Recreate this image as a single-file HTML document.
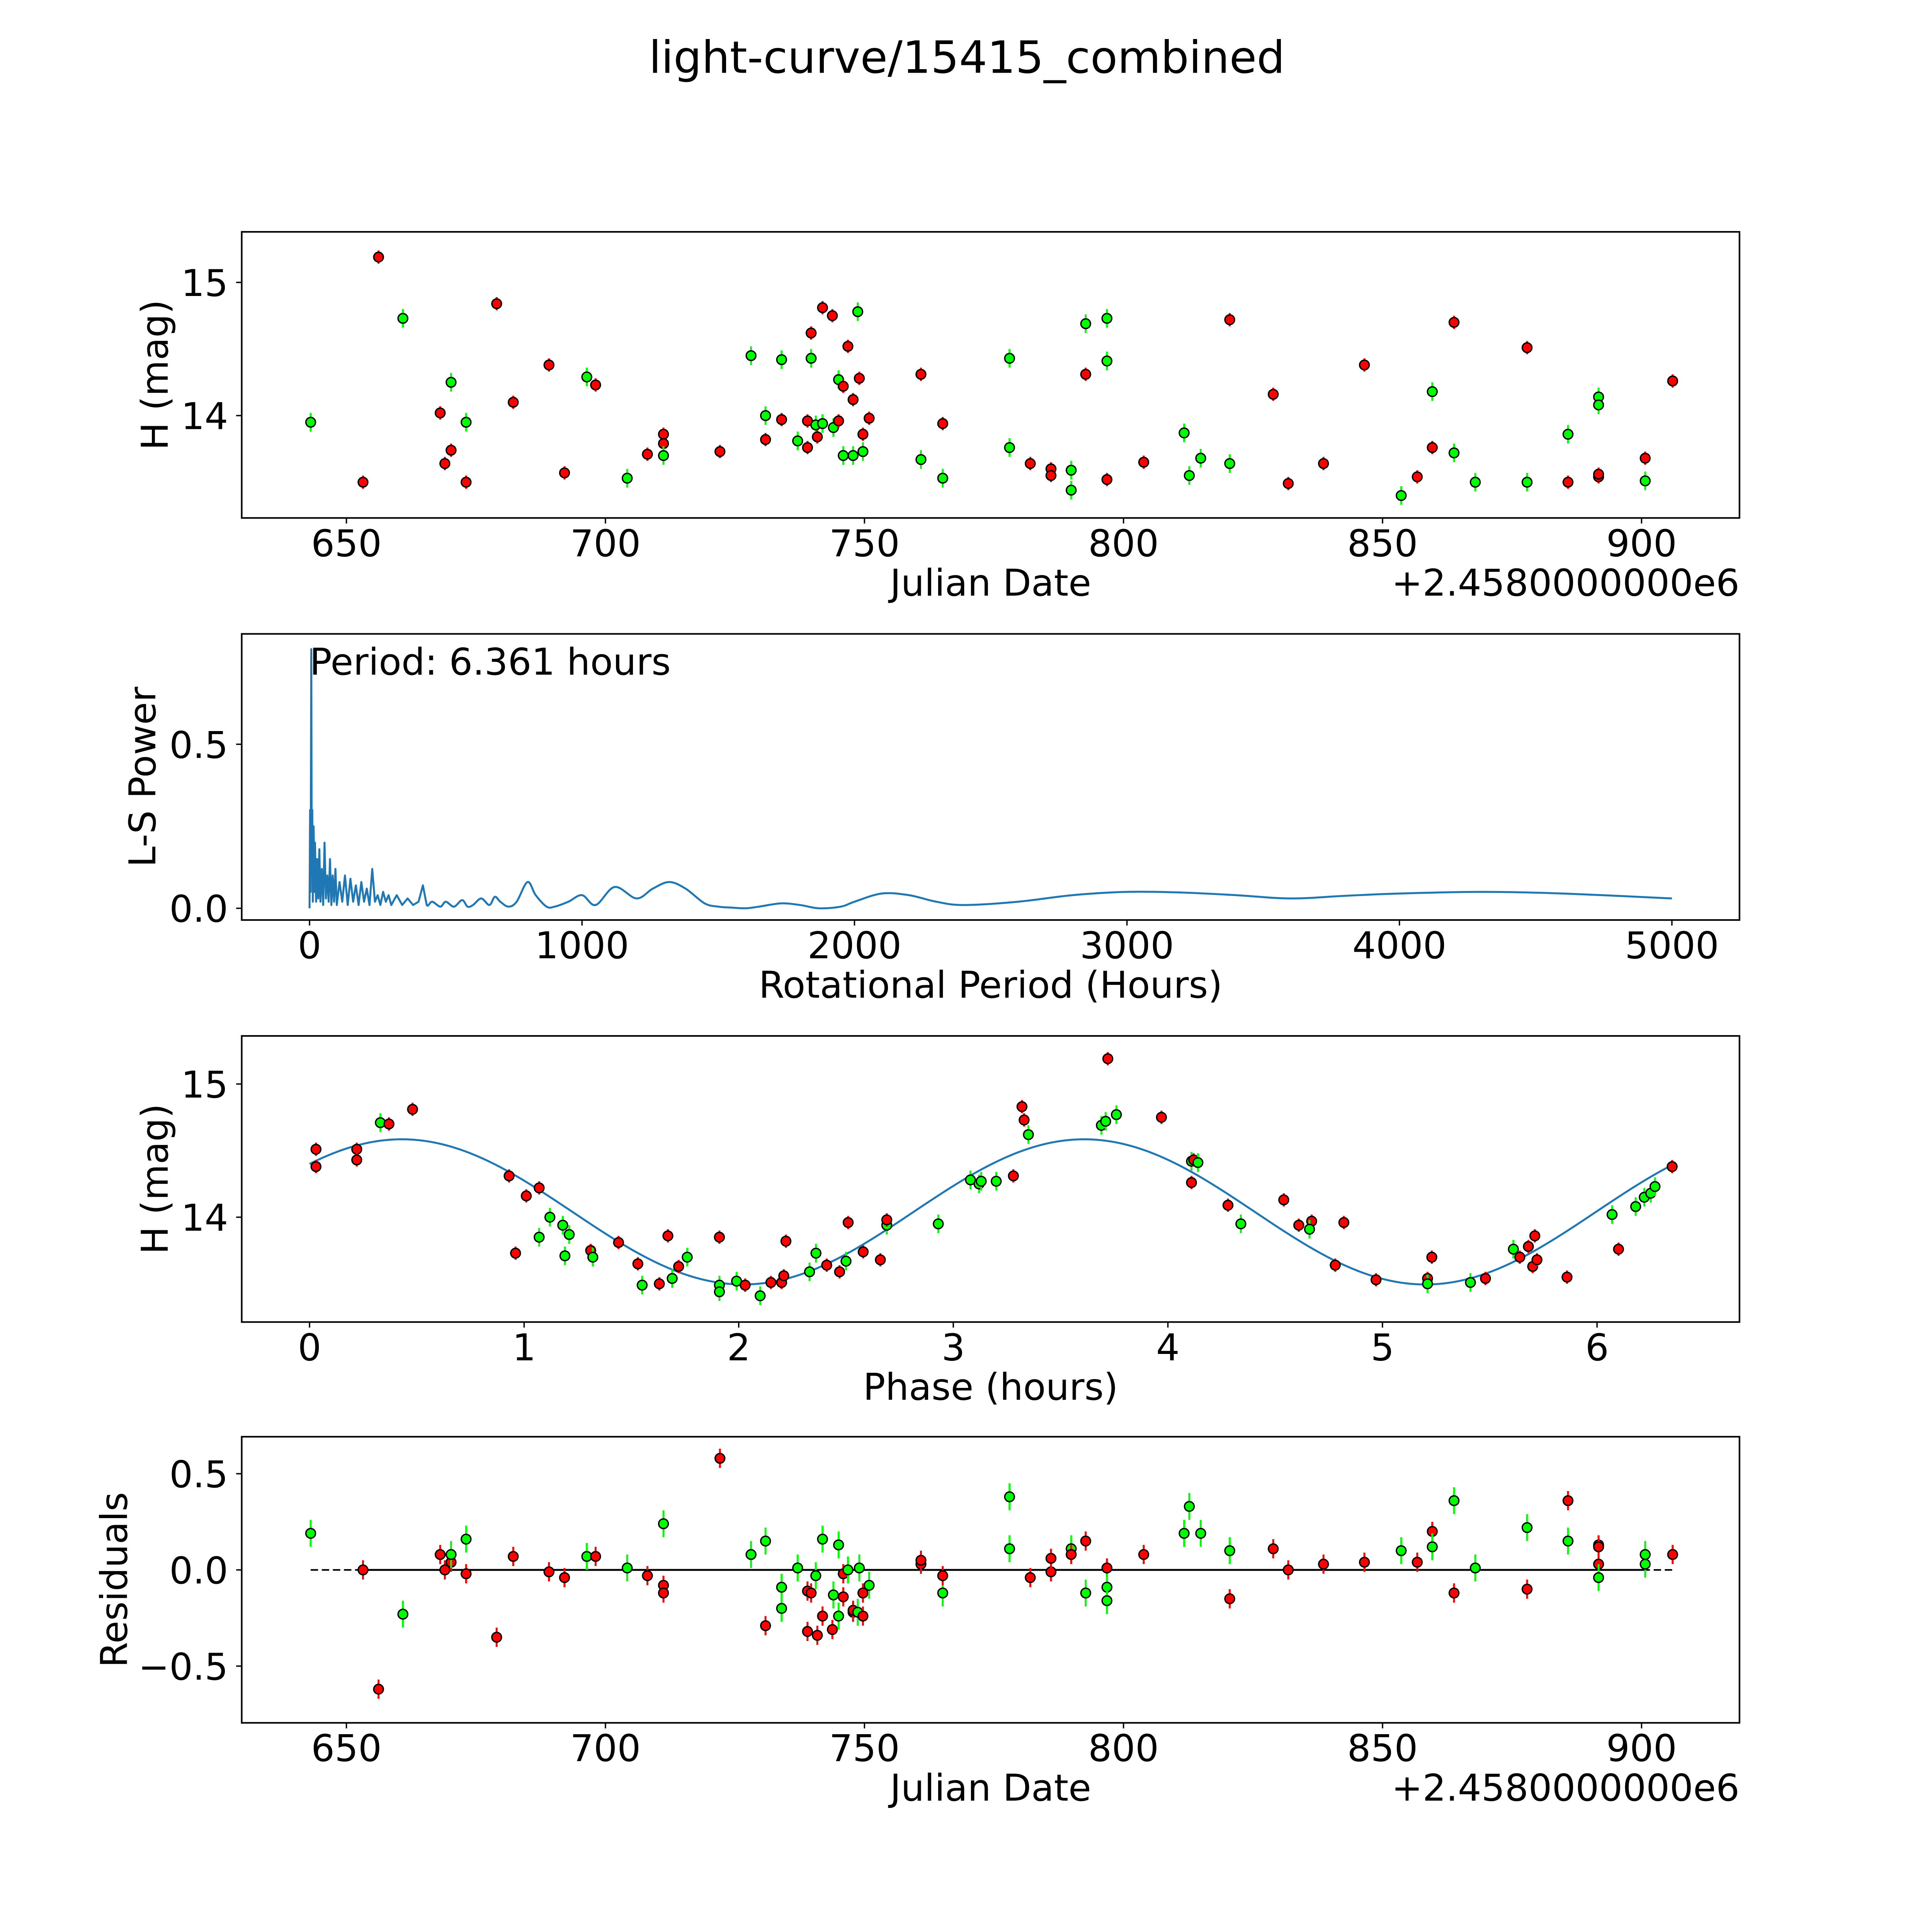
<!DOCTYPE html>
<html><head><meta charset="utf-8"><style>
html,body{margin:0;padding:0;background:#fff;overflow:hidden;width:100%;height:100%;}
svg{display:block;position:fixed;left:0;top:0;width:100vw;height:100vh;}
text{font-family:"DejaVu Sans","Liberation Sans",sans-serif;fill:#000;}
</style></head><body>
<svg id="fig" viewBox="0 0 1566.6 1566.6" xmlns="http://www.w3.org/2000/svg">
<rect x="0" y="0" width="1566.6" height="1566.6" fill="#fff"/>
<text x="784" y="59" font-size="36" text-anchor="middle">light-curve/15415_combined</text>
</svg>
<script>
// ---- Panel 1: light curve ----
const lcJD = [643.1,653.2,656.2,660.9,668.1,669.0,670.2,670.2,673.1,673.1,679.0,682.2,689.1,692.1,696.4,698.1,704.2,708.1,711.2,711.2,711.2,722.1,728.1,730.9,730.9,734.0,734.0,737.1,739.0,739.0,739.7,739.7,740.6,741.9,741.9,740.9,744.0,743.8,745.0,745.0,745.9,745.9,746.8,747.8,747.8,748.7,749.0,749.7,749.7,750.9,760.9,760.9,765.1,765.1,778.0,778.0,782.0,786.0,786.0,789.9,789.9,792.7,792.7,796.8,796.8,796.8,803.9,811.7,812.7,814.9,820.5,820.5,828.9,831.8,838.6,846.5,853.6,856.7,859.6,859.6,863.8,863.8,867.9,877.9,877.9,885.8,885.8,891.7,891.7,891.7,891.7,900.7,900.7,906.0];
const lcMag = [13.95,13.50,15.19,14.73,14.02,13.64,13.74,14.25,13.95,13.50,14.84,14.10,14.38,13.57,14.29,14.23,13.53,13.71,13.86,13.79,13.70,13.73,14.45,13.82,14.00,13.97,14.42,13.81,13.76,13.96,14.62,14.43,13.93,14.81,13.94,13.84,13.91,14.75,14.27,13.96,14.22,13.70,14.52,14.12,13.70,14.78,14.28,13.86,13.73,13.98,14.31,13.67,13.94,13.53,13.76,14.43,13.64,13.60,13.55,13.59,13.44,14.69,14.31,13.52,14.73,14.41,13.65,13.87,13.55,13.68,14.72,13.64,14.16,13.49,13.64,14.38,13.40,13.54,13.76,14.18,13.72,14.70,13.50,13.50,14.51,13.50,13.86,13.54,13.56,14.14,14.08,13.68,13.51,14.26];
const lcBand = "grrgrrrggrrrrrgrgrrrgrgrgrggrrrggrgrgrgrrgrrggrrgrrgrgggrrrgggrrggrgggrgrrrrgrrggrggrrgrrggrgr".split("");
// ---- Residuals ----
const resJD = [643.1,653.2,656.2,660.9,668.1,669.0,670.2,670.2,673.1,673.1,679.0,682.2,689.1,692.1,696.4,698.1,704.2,708.1,711.2,711.2,711.2,722.1,728.1,730.9,730.9,734.0,734.0,737.1,739.0,739.0,739.7,740.9,740.6,741.9,741.9,743.8,744.0,745.0,745.0,745.9,745.9,746.8,747.8,747.8,748.7,749.0,749.7,749.7,750.9,760.9,760.9,765.1,765.1,778.0,778.0,782.0,786.0,786.0,789.9,789.9,792.7,792.7,796.8,796.8,796.8,803.9,811.7,812.7,814.9,820.5,820.5,828.9,831.8,838.6,846.5,853.6,856.7,859.6,859.6,863.8,863.8,867.9,877.9,877.9,885.8,885.8,891.7,891.7,891.7,891.7,900.7,900.7,906.0];
const resVal = [0.19,0.00,-0.62,-0.23,0.08,0.00,0.04,0.08,0.16,-0.02,-0.35,0.07,-0.01,-0.04,0.07,0.07,0.01,-0.03,-0.08,-0.12,0.24,0.58,0.08,-0.29,0.15,-0.09,-0.20,0.01,-0.11,-0.32,-0.12,-0.34,-0.03,0.16,-0.24,-0.31,-0.13,0.13,-0.24,-0.02,-0.14,0.00,-0.22,-0.21,-0.22,0.01,-0.24,-0.12,-0.08,0.03,0.05,-0.12,-0.03,0.38,0.11,-0.04,-0.01,0.06,0.11,0.08,-0.12,0.15,0.01,-0.09,-0.16,0.08,0.19,0.33,0.19,-0.15,0.10,0.11,0.00,0.03,0.04,0.10,0.04,0.20,0.12,0.36,-0.12,0.01,0.22,-0.10,0.15,0.36,0.03,-0.04,0.13,0.12,0.08,0.03,0.08];
const resBand = "grrgrrrggrrrrrgrgrrrgrgrggggrrrrggrrgggrrgrrggrrgrrgrggrrrgrgrrggrgggrgrrrrgrrggrggrgrrgrrggrgr".split("");
// ---- Phased ----
const phPhase = [0.03,0.03,0.22,0.22,0.33,0.37,0.48,0.93,0.96,1.01,1.07,1.07,1.12,1.18,1.19,1.21,1.31,1.32,1.44,1.53,1.55,1.63,1.69,1.67,1.72,1.76,1.91,1.91,1.91,1.99,2.03,2.10,2.15,2.20,2.21,2.22,2.33,2.36,2.41,2.47,2.50,2.51,2.58,2.66,2.69,2.69,2.93,3.08,3.12,3.13,3.20,3.28,3.32,3.33,3.35,3.69,3.71,3.72,3.76,3.97,4.11,4.11,4.12,4.14,4.28,4.34,4.54,4.61,4.67,4.66,4.82,4.78,4.97,5.21,5.21,5.23,5.41,5.48,5.61,5.64,5.68,5.70,5.72,5.71,5.86,6.07,6.10,6.18,6.22,6.25,6.27,6.35];
const phMag = [14.51,14.38,14.51,14.43,14.71,14.70,14.81,14.31,13.73,14.16,14.22,13.85,14.00,13.94,13.71,13.87,13.75,13.70,13.81,13.65,13.49,13.50,13.54,13.86,13.63,13.70,13.85,13.49,13.44,13.52,13.49,13.41,13.51,13.51,13.56,13.82,13.59,13.73,13.64,13.59,13.67,13.96,13.74,13.68,13.94,13.98,13.95,14.28,14.25,14.27,14.27,14.31,14.83,14.73,14.62,14.69,14.72,15.19,14.77,14.75,14.26,14.42,14.43,14.41,14.09,13.95,14.13,13.94,13.97,13.91,13.96,13.64,13.53,13.54,13.50,13.70,13.51,13.54,13.76,13.70,13.78,13.63,13.68,13.86,13.55,14.02,13.76,14.08,14.15,14.18,14.23,14.38];
const phBand = "rrrrgrrrrrrgggggrgrrgrgrrgrgggrgrrrrggrrgrrrgrgggggrrrgggrgrrgrgrgrrrgrrrrgrgrgrrrrrrgrggggrr".split("");
const fitMean = [14.04];
const fitAmp = [0.545];
const fitPeak = [0.43];
const fitHalfPeriod = [3.18];
// ---- Periodogram ----
const lsPeriod = [0,2,4,6.36,8,10,12,15,18,20,24,28,32,36,40,45,50,55,60,65,70,75,80,85,90,95,100,110,120,130,140,150,160,170,180,190,200,210,220,230,240,250,260,270,280,290,300,320,340,360,380,400,416,430,450,480,500,530,560,580,600,630,660,680,700,730,760,800,830,870,900,950,1000,1050,1120,1200,1260,1320,1380,1450,1500,1550,1600,1650,1730,1800,1870,1950,2000,2100,2200,2300,2400,2600,2800,3000,3200,3400,3600,3800,4000,4300,4600,5000];
const lsPower = [0,0.3,0.05,0.79,0.1,0.3,0.02,0.25,0.05,0.2,0.02,0.15,0.03,0.18,0.02,0.12,0.01,0.2,0.03,0.1,0.02,0.15,0.01,0.1,0.02,0.12,0.01,0.08,0.02,0.1,0.01,0.09,0.02,0.07,0.01,0.08,0.02,0.06,0.01,0.12,0.02,0.04,0.01,0.05,0.02,0.04,0.01,0.04,0.01,0.03,0.01,0.02,0.07,0.01,0.02,0.005,0.02,0.005,0.025,0.005,0.01,0.03,0.01,0.035,0.02,0.005,0.02,0.08,0.04,0.005,0.005,0.02,0.04,0.01,0.065,0.03,0.06,0.08,0.06,0.015,0.005,0.002,0,0.005,0.015,0.01,0,0.005,0.02,0.045,0.04,0.02,0.01,0.02,0.04,0.05,0.048,0.04,0.03,0.038,0.045,0.05,0.045,0.03];
const jdTicks = [650,700,750,800,850,900];
const magTicks = [14,15];
const lsXTicks = [0,1000,2000,3000,4000,5000];
const lsYTicks = [0.0,0.5];
const phXTicks = [0,1,2,3,4,5,6];
const resYTicks = [0.5,0.0,-0.5];

const NS = "http://www.w3.org/2000/svg";
const svg = document.getElementById('fig');
function mk(tag, attrs, parent){const e=document.createElementNS(NS,tag);for(const k in attrs)e.setAttribute(k,attrs[k]);(parent||svg).appendChild(e);return e;}
function lin(d0,d1,p0,p1){return v=>p0+(v-d0)*(p1-p0)/(d1-d0);}
const L=196,R=1410.5;
const colors={r:'#ff0000',g:'#00ff00'};
const FS=30;

function fmt(v){ if(v<0) return '\u2212'+(-v).toFixed(1); return String(v);}
function axes(name,top,bot,sx,sy,xt,yt,xlab,ylab,ylabX,yfmt,offset){
  const g=mk('g',{});
  
  
  xt.forEach(t=>{const x=sx(t);
    const tk=mk('line',{x1:x,x2:x,y1:bot,y2:bot+4.5,stroke:'#000','stroke-width':1.1},g);
    
    
    const tx=mk('text',{x:x,y:bot+31,'font-size':FS,'text-anchor':'middle'},g);tx.textContent=String(t);
    
    });
  yt.forEach(t=>{const y=sy(t);
    const tk=mk('line',{x1:L-4.5,x2:L,y1:y,y2:y,stroke:'#000','stroke-width':1.1},g);
    
    
    const tx=mk('text',{x:L-11,y:y+11,'font-size':FS,'text-anchor':'end'},g);tx.textContent=yfmt(t);
    
    });
  const xl=mk('text',{x:(L+R)/2,y:bot+63,'font-size':FS,'text-anchor':'middle'},g);xl.textContent=xlab;
  
  
  const cy=(top+bot)/2;
  const yl=mk('text',{x:ylabX,y:cy,'font-size':FS,'text-anchor':'middle',transform:`rotate(-90 ${ylabX} ${cy})`},g);yl.textContent=ylab;
  
  
  if(offset){const o=mk('text',{x:R,y:bot+63,'font-size':FS,'text-anchor':'end'},g);o.textContent=offset;
    
    }
  return g;
}
function frame(top,bot,name){const f=mk('rect',{x:L,y:top,width:R-L,height:bot-top,fill:'none',stroke:'#000','stroke-width':1.3});
  
  }
function points(xs,ys,bands,sx,sy,err,name){
  const g=mk('g',{});
  
  
  xs.forEach((v,i)=>{const x=sx(v),y=sy(ys[i]);const c=colors[bands[i]]||'#ff0000';
    const e=err(i);
    const eb=mk('line',{x1:x,x2:x,y1:sy(ys[i]-e),y2:sy(ys[i]+e),stroke:c,'stroke-width':1.6},g);
    
    
    const p=mk('circle',{cx:x,cy:y,r:3.9,fill:c,stroke:'#000','stroke-width':1.1},g);
    
    });
}
function errFor(bands){return i=>bands[i]==='g'?0.07:0.05;}

// Panel 1
{const top=188,bot=420;
 const sx=lin(650,900,280.9,1331.1), sy=lin(14,15,337,229);
 points(lcJD,lcMag,lcBand,sx,sy,errFor(lcBand),'light-curve-points');
 frame(top,bot,'light-curve-axes');
 axes('light-curve-axis',top,bot,sx,sy,jdTicks,magTicks,'Julian Date','H (mag)',136,String,'+2.4580000000e6');}
// Panel 2
{const top=514,bot=746;
 const sx=lin(0,5000,251,1355.7), sy=lin(0,0.5,736.5,603.5);
 const P=lsPeriod.map((p,i)=>[sx(p),sy(lsPower[i])]);
 let d='M'+P[0][0].toFixed(2)+','+P[0][1].toFixed(2);
 for(let i=1;i<P.length;i++){
   if(lsPeriod[i]<450){d+=' L'+P[i][0].toFixed(2)+','+P[i][1].toFixed(2);continue;}
   const p0=P[i-2]||P[i-1],p1=P[i-1],p2=P[i],p3=P[i+1]||P[i];
   const c1x=p1[0]+(p2[0]-p0[0])/6,c1y=p1[1]+(p2[1]-p0[1])/6;
   const c2x=p2[0]-(p3[0]-p1[0])/6,c2y=p2[1]-(p3[1]-p1[1])/6;
   d+=` C${c1x.toFixed(2)},${c1y.toFixed(2)} ${c2x.toFixed(2)},${c2y.toFixed(2)} ${p2[0].toFixed(2)},${p2[1].toFixed(2)}`;
 }
 const pl=mk('path',{d:d,fill:'none',stroke:'#1f77b4','stroke-width':1.6,'stroke-linejoin':'round'});
 
 
 frame(top,bot,'periodogram-axes');
 axes('periodogram-axis',top,bot,sx,sy,lsXTicks,lsYTicks,'Rotational Period (Hours)','L-S Power',126,v=>v.toFixed(1),null);
 const t=mk('text',{x:251,y:547,'font-size':FS});t.textContent='Period: 6.361 hours';
 
 }
// Panel 3
{const top=840,bot=1072;
 const sx=lin(0,6,251,1295), sy=lin(14,15,987,879);
 const pts=[];for(let k=0;k<=300;k++){const p=6.36*k/300;const h=fitMean[0]+fitAmp[0]*Math.cos(2*Math.PI*(p-fitPeak[0])/fitHalfPeriod[0]);pts.push(sx(p).toFixed(2)+','+sy(h).toFixed(2));}
 const fl=mk('polyline',{points:pts.join(' '),fill:'none',stroke:'#1f77b4','stroke-width':1.6});
 
 
 points(phPhase,phMag,phBand,sx,sy,errFor(phBand),'phased-points');
 frame(top,bot,'phase-axes');
 axes('phase-axis',top,bot,sx,sy,phXTicks,magTicks,'Phase (hours)','H (mag)',136,String,null);}
// Panel 4
{const top=1165,bot=1397;
 const sx=lin(650,900,280.9,1331.1), sy=lin(0,0.5,1273,1195);
 const dl=mk('line',{x1:sx(643.1),x2:sx(906.0),y1:sy(0),y2:sy(0),stroke:'#000','stroke-width':1.3,'stroke-dasharray':'6,3'});
 
 
 const sl=mk('line',{x1:sx(653.2),x2:sx(900.7),y1:sy(0),y2:sy(0),stroke:'#000','stroke-width':1.5});
 
 
 points(resJD,resVal,resBand,sx,sy,i=>resBand[i]==='g'?0.07:0.05,'residual-points');
 frame(top,bot,'residual-axes');
 axes('residual-axis',top,bot,sx,sy,jdTicks,resYTicks,'Julian Date','Residuals',103,v=>v===0?'0.0':fmt(v),'+2.4580000000e6');}
</script>
</body></html>
